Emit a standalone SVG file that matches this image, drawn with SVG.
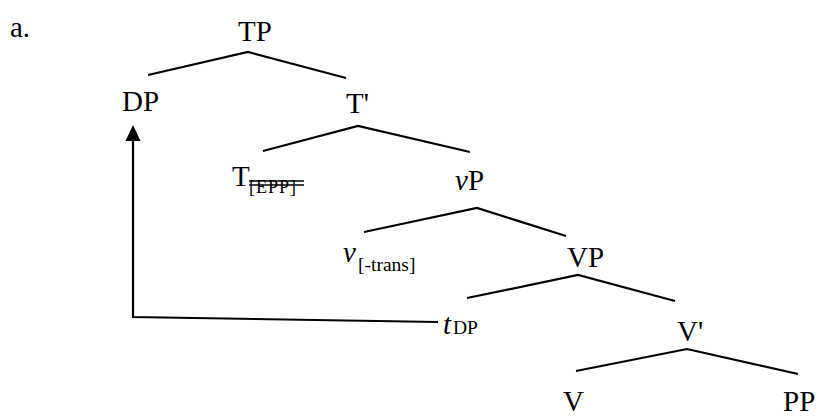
<svg xmlns="http://www.w3.org/2000/svg" width="818" height="418" viewBox="0 0 818 418">
<style>
text{font-family:"Liberation Serif","Times New Roman",serif;fill:#000}
.n{font-size:29px}
.s{font-size:19.5px}
.i{font-style:italic}
.e{stroke:#000;stroke-width:2.2;fill:none;stroke-linecap:butt}
.k{stroke:#000;stroke-width:1.6}
</style>
<rect width="818" height="418" fill="#fff"/>
<text class="n" x="10" y="37">a.</text>
<g id="edges">
<polyline class="e" points="148,75 248,52 346,78"/>
<polyline class="e" points="263,151 358,126 470,152"/>
<polyline class="e" points="364,232 477,208 566,236"/>
<polyline class="e" points="467,298 578,275 675,301"/>
<polyline class="e" points="576,371 687,349 798,374"/>
<path class="e" d="M438,322 L133,317 L133,141"/>
<path d="M133,125 L125.5,141 L140.5,141 Z" fill="#000"/>
</g>
<g id="TP"><text class="n" x="238" y="41">TP</text></g>
<g id="DP"><text class="n" x="122" y="111">DP</text></g>
<g id="Tbar"><text class="n" x="346" y="113">T'</text></g>
<g id="T"><text class="n" x="232" y="186">T</text><text x="249" y="193" style="font-size:18px;letter-spacing:1px">[EPP]</text>
<line class="k" x1="249" y1="181" x2="304" y2="181"/>
<line class="k" x1="249" y1="185" x2="304" y2="185"/></g>
<g id="vP"><text class="n" x="455" y="190"><tspan class="i">v</tspan>P</text></g>
<g id="v"><text class="n i" x="343" y="262">v</text><text class="s" x="358" y="271">[-trans]</text></g>
<g id="VP"><text class="n" x="567" y="267">VP</text></g>
<g id="tDP"><text class="n i" x="443" y="334">t</text><text class="s" x="453" y="334">DP</text></g>
<g id="Vbar"><text class="n" x="677" y="341">V'</text></g>
<g id="V"><text class="n" x="563" y="411">V</text></g>
<g id="PP"><text class="n" x="783" y="411">PP</text></g>
</svg>
